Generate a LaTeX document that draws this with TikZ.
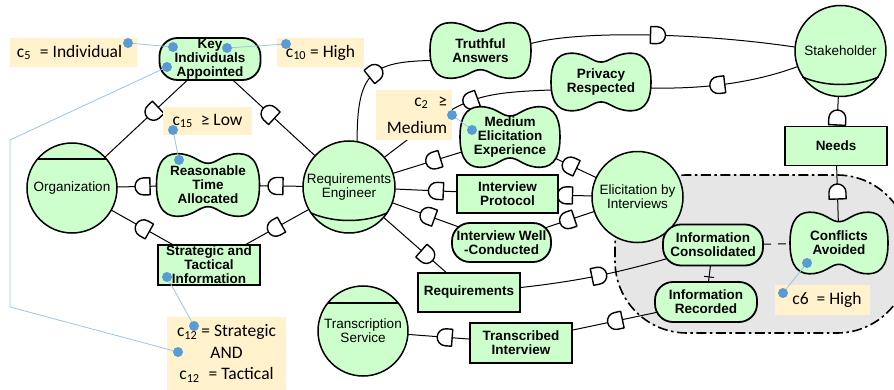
\documentclass[tikz,border=0pt]{standalone}
\usepackage{fontspec}
\setmainfont{Liberation Sans}
\newfontfamily\calfont{Carlito}
\usetikzlibrary{decorations.markings}
\definecolor{ngreen}{HTML}{CCFFCC}
\definecolor{cfill}{HTML}{FFF2CC}
\definecolor{dotblue}{HTML}{5B9BD5}
\definecolor{lineblue}{HTML}{9DC3E6}
\definecolor{bgray}{HTML}{E6E6E6}
\pgfdeclarelayer{bg}
\pgfdeclarelayer{lines}
\pgfsetlayers{bg,lines,main}
\newcommand\dsym{\draw[fill=white,line width=1.4pt,line join=round] (-7pt,-8.5pt) -- (-0.5pt,-8.5pt) arc[start angle=-90,end angle=90,radius=8.5pt] -- (-7pt,8.5pt) -- cycle;}
\newcommand\qualitynode[6]{%
  \draw[fill=ngreen, line width=1.6pt, shift={(#2,#3)}, xscale=#4/100, yscale=#5/60]
    (-50,0) .. controls (-50,-25) and (-40,-32) .. (-25,-30)
    .. controls (-12,-28) and (-8,-21) .. (0,-21)
    .. controls (8,-21) and (12,-28) .. (25,-30)
    .. controls (40,-32) and (50,-25) .. (50,0)
    .. controls (50,25) and (40,32) .. (25,30)
    .. controls (12,28) and (8,21) .. (0,21)
    .. controls (-8,21) and (-12,28) .. (-25,30)
    .. controls (-40,32) and (-50,25) .. (-50,0) -- cycle;
  \node[lbl, minimum width=#4, minimum height=#5, inner sep=0pt] (#1) at (#2,#3) {#6};
}
\tikzset{
  lbl/.style={font=\fontsize{13.5}{14}\selectfont\bfseries, align=center},
  act/.style={circle, draw, fill=ngreen, line width=1.5pt, font=\fontsize{13.5}{14}\selectfont, align=center, inner sep=0pt},
  goalnode/.style={rectangle, rounded corners=18pt, draw, fill=ngreen, line width=1.8pt, lbl, inner sep=0pt},
  resnode/.style={rectangle, draw, fill=ngreen, line width=1.8pt, lbl, inner sep=0pt},
  cbox/.style={fill=cfill, inner sep=0pt, font=\calfont\fontsize{17.5}{21.5}\selectfont, align=center},
  conn/.style={line width=1pt},
  dlink/.style={conn, postaction={decorate, decoration={markings, mark=at position #1 with {\dsym}}}},
  tlink/.style={conn, postaction={decorate, decoration={markings, mark=at position #1 with {\draw[line width=1pt] (0pt,-5pt) -- (0pt,5pt);}}}},
  bdot/.style={circle, fill=dotblue, inner sep=0pt, minimum size=10pt},
  bline/.style={draw=lineblue, line width=0.8pt},
}
\begin{document}
\begin{tikzpicture}[x=1pt,y=-1pt]
\useasboundingbox (0,0) rectangle (894,390);

\begin{pgfonlayer}{bg}
\draw[fill=bgray, line width=1.6pt, dash pattern=on 10pt off 3.5pt on 2.5pt off 3.5pt, rounded corners=72pt] (615,175) rectangle (909,333);
\end{pgfonlayer}

% nodes
\node[goalnode, minimum width=101, minimum height=42] (ki) at (210,59) {Key\\Individuals\\Appointed};
\node[act, minimum size=90] (org) at (72,188) {Organization};
\draw[line width=1.5pt] ([shift={(-34.4,-29)}]org.center) -- ([shift={(34.4,-29)}]org.center);
\qualitynode{rta}{208}{185}{103}{62}{Reasonable\\Time\\Allocated}
\node[resnode, minimum width=102, minimum height=40] (sti) at (209,265) {Strategic and\\Tactical\\Information};
\node[act, minimum size=92] (re) at (349,187) {Requirements\\Engineer};
\draw[line width=1.5pt] ([shift={(-38,26)}]re.center) .. controls ([shift={(-15,36)}]re.center) and ([shift={(15,36)}]re.center) .. ([shift={(38,26)}]re.center);
\qualitynode{ta}{480.5}{50.5}{101}{55}{Truthful\\Answers}
\qualitynode{pr}{601}{82}{100}{57}{Privacy\\Respected}
\qualitynode{mee}{510}{137}{100}{60}{Medium\\Elicitation\\Experience}
\node[resnode, minimum width=101, minimum height=38] (ip) at (507.5,194) {Interview\\Protocol};
\node[goalnode, minimum width=99, minimum height=39] (iwc) at (501.5,242.5) {Interview Well\\-Conducted};
\node[resnode, minimum width=102, minimum height=39] (req) at (469,292.5) {Requirements};
\node[act, minimum size=90] (ts) at (363,331) {Transcription\\Service};
\draw[line width=1.5pt] ([shift={(-35.2,-28)}]ts.center) -- ([shift={(35.2,-28)}]ts.center);
\node[resnode, minimum width=102, minimum height=40] (tri) at (521,343) {Transcribed\\Interview};
\node[act, minimum size=91] (ebi) at (637.5,197) {Elicitation by\\Interviews};
\node[goalnode, minimum width=100, minimum height=41] (ic) at (713,245) {Information\\Consolidated};
\node[goalnode, minimum width=102, minimum height=40] (irec) at (706,302) {Information\\Recorded};
\qualitynode{ca}{839}{243}{98}{61}{Conflicts\\Avoided}
\node[resnode, minimum width=102, minimum height=39] (needs) at (836,146) {Needs};
\node[act, minimum size=91] (sh) at (840.5,51) {Stakeholder};
\draw[line width=1.5pt] ([shift={(-38,26)}]sh.center) .. controls ([shift={(-15,36)}]sh.center) and ([shift={(15,36)}]sh.center) .. ([shift={(38,26)}]sh.center);

% connectors
\begin{pgfonlayer}{lines}
\draw[dlink=0.412] (ki.center) -- (org.center);
\draw[dlink=0.574] (re.center) -- (ki.center);
\draw[dlink=0.518] (re.center) -- (rta.center);
\draw[dlink=0.478] (rta.center) -- (org.center);
\draw[dlink=0.526] (re.center) -- (sti.center);
\draw[dlink=0.48] (sti.center) -- (org.center);
\draw[dlink=0.56] (re.80) .. controls (357,72) and (372,62) .. ([yshift=-10pt]ta.west);
\draw[dlink=0.48] ([yshift=7pt]ta.east) .. controls (580,30) and (700,33) .. (sh.175);
\draw[dlink=0.55] (sh.200) .. controls (750,84) and (700,89) .. ([yshift=-6pt]pr.east);
\draw[dlink=0.44] ([yshift=-8pt]pr.west) .. controls (470,93) and (462,98) .. (re.40);
\draw[dlink=0.528] (ebi.center) -- (mee.center);
\draw[dlink=0.474] (mee.center) -- (re.center);
\draw[dlink=0.554] (ebi.center) -- (ip.center);
\draw[dlink=0.449] (ip.center) -- (re.center);
\draw[dlink=0.514] (ebi.center) -- (iwc.center);
\draw[dlink=0.482] (iwc.center) -- (re.center);
\draw[dlink=0.647] (re.center) -- (req.center);
\draw[dlink=0.4] ([yshift=5pt]req.east) .. controls (597,279) and (639,267.5) .. (ic.center);
\draw[dlink=0.68] (irec.center) -- ([yshift=13pt]tri.east);
\draw[dlink=0.48] (tri.center) -- (ts.center);
\draw[tlink=0.56] (ic.center) -- (irec.center);
\draw[conn, dash pattern=on 8pt off 7pt, dash phase=10pt] (ic.center) -- (ca.center);
\draw[dlink=0.295] (needs.center) -- (sh.center);
\draw[dlink=0.526] (ca.center) -- (needs.center);
\end{pgfonlayer}

% constraint labels
\node[cbox, minimum width=127, minimum height=29] (l5) at (73.5,52.5) {c\textsubscript{5}\hspace{5pt} = Individual\hspace*{8pt}};
\node[cbox, minimum width=87, minimum height=29] (l10) at (320.5,52.5) {c\textsubscript{10} = High};
\node[cbox, minimum width=89, minimum height=28] (l15) at (207.5,121) {c\textsubscript{15}\hspace{4pt} ≥ Low};
\node[cbox, text width=66pt, align=right, minimum height=50, inner xsep=5pt, font=\calfont\fontsize{17.5}{27}\selectfont] (l2) at (414,115) {c\textsubscript{2}\hspace{4pt} ≥\\Medium};
\node[cbox, minimum width=119, minimum height=73] (l12) at (226.5,353.5) {c\textsubscript{12} = Strategic\\AND\\c\textsubscript{12}\hspace{5pt} = Tactical};
\node[cbox, minimum width=95, minimum height=30] (l6) at (822.5,300) {\hspace*{9pt}c6\hspace{4pt} = High};

% dots
\node[bdot] (d5a) at (128,43) {};
\node[bdot] (d5b) at (173,47) {};
\node[bdot] (d10a) at (227,48) {};
\node[bdot] (d10b) at (286,44) {};
\node[bdot] (dk3) at (167,67) {};
\node[bdot] (d12a) at (178,352) {};
\node[bdot] (d15a) at (173,130) {};
\node[bdot] (d15b) at (179,160) {};
\node[bdot] (d2a) at (452,115) {};
\node[bdot] (d2b) at (472,130) {};
\node[bdot] (dsti) at (167,277) {};
\node[bdot] (d12b) at (194,326) {};
\node[bdot] (d6a) at (783,293) {};
\node[bdot] (d6b) at (807,263) {};
\coordinate (bend1) at (10,140);
\coordinate (bend2) at (10,307);
\draw[bline] (d5a) -- (d5b);
\draw[bline] (d10a) -- (d10b);
\draw[bline] (dk3) -- (bend1) -- (bend2) -- (d12a);
\draw[bline] (d15a) -- (d15b);
\draw[bline] (d2a) -- (d2b);
\draw[bline] (dsti) -- (d12b);
\draw[bline] (d6a) -- (d6b);
\end{tikzpicture}
\end{document}
